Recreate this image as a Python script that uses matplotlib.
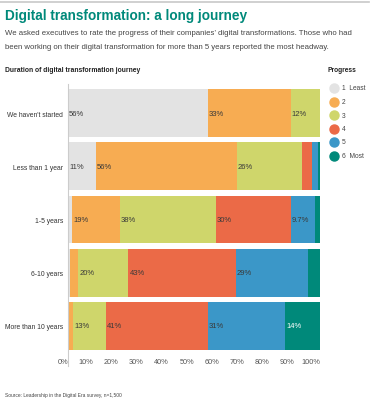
import matplotlib
matplotlib.use("Agg")
import matplotlib.pyplot as plt
from matplotlib.lines import Line2D
import matplotlib.transforms as mtransforms
import numpy as np

plt.rcParams['font.family'] = ['Liberation Sans', 'DejaVu Sans']

categories = ["We haven't started", "Less than 1 year", "1-5 years", "6-10 years", "More than 10 years"]
progress_levels = ["1  Least", "2", "3", "4", "5", "6  Most"]
p1 = [55.6, 11.0, 1.6, 0.6, 0.4]
p2 = [32.8, 56.0, 19.0, 3.4, 1.6]
p3 = [11.6, 26.0, 38.0, 20.0, 13.0]
p4 = [0.0, 4.0, 29.8, 42.6, 40.6]
p5 = [0.0, 2.2, 9.7, 28.8, 30.6]
p6 = [0.0, 0.8, 1.9, 4.6, 13.8]
series = [p1, p2, p3, p4, p5, p6]
colors = ["#e3e3e3", "#f7ac52", "#cfd66b", "#eb6a47", "#3b97c8", "#00897a"]
xticks = [0, 10, 20, 30, 40, 50, 60, 70, 80, 90, 100]

W, H = 371, 406
fig = plt.figure(figsize=(W / 100, H / 100), dpi=100)
renderer = fig.canvas.get_renderer()

def fx(px):
    return px / W

def fy(py):
    return 1 - py / H

def fit(t, target_px):
    w = t.get_window_extent(renderer).width
    t.set_fontsize(t.get_fontsize() * target_px / w)
    return t.get_fontsize()

ax = fig.add_axes([fx(68), fy(353.5), fx(320) - fx(68), fy(87.5) - fy(353.5)])
y = np.arange(len(categories))
left = np.zeros(len(categories))
for vals, col in zip(series, colors):
    vals = np.array(vals)
    ax.barh(y, vals, left=left, height=0.9, color=col, edgecolor='none')
    for yi, (l, v) in enumerate(zip(left, vals)):
        if v >= 9:
            txt = ('{:.2g}'.format(v)) + '%'
            tc = 'white' if col == "#00897a" else '#3a3a3a'
            ax.text(l + 0.4, yi, txt, ha='left', va='center', fontsize=5.5, color=tc)
    left = left + vals

ax.set_xlim(0, 100)
ax.set_ylim(len(categories) - 0.5, -0.5)
ax.set_yticks(y)
ax.set_yticklabels(categories, fontsize=6, color='#333333')
ax.set_xticks(xticks)
xl = ax.set_xticklabels([f"{t}%" for t in xticks], fontsize=5.3, color='#555555', ha='right')
offset = mtransforms.ScaledTranslation(-3 / 100, 0, fig.dpi_scale_trans)
for lab in ax.get_xticklabels():
    lab.set_transform(lab.get_transform() + offset)
ax.tick_params(axis='both', length=0)
ax.tick_params(axis='y', pad=3.6)
ax.tick_params(axis='x', pad=4)
for s in ax.spines.values():
    s.set_visible(False)

# fit y tick label size to reference width of the longest label
tmp = fig.text(0, 0, categories[-1], fontsize=6)
ysize = fit(tmp, 59)
tmp.remove()
ax.tick_params(axis='y', labelsize=ysize)

# left axis rule
fig.add_artist(Line2D([fx(68), fx(68)], [fy(85), fy(367)], transform=fig.transFigure,
                      color='#cccccc', lw=0.8))
# top rule
fig.add_artist(Line2D([0, fx(369)], [fy(2.5), fy(2.5)], transform=fig.transFigure,
                      color='#c8c8c8', lw=1.2))

t = fig.text(fx(5), fy(16), "Digital transformation: a long journey", fontsize=10,
             fontweight='bold', color='#00897a', ha='left', va='center')
fit(t, 243)
s1 = fig.text(fx(5), fy(33.5), "We asked executives to rate the progress of their companies\u2019 digital transformations. Those who had",
              fontsize=6, color='#444444', ha='left', va='center')
ssize = fit(s1, 348)
fig.text(fx(5), fy(47.5), "been working on their digital transformation for more than 5 years reported the most headway.",
         fontsize=ssize, color='#444444', ha='left', va='center')
h = fig.text(fx(5), fy(71), "Duration of digital transformation journey", fontsize=5.5,
             fontweight='bold', color='#222222', ha='left', va='center')
fit(h, 135)
p = fig.text(fx(327), fy(71), "Progress", fontsize=5.5, fontweight='bold', color='#222222',
             ha='left', va='center')
fit(p, 29)

leg_y = [89, 102.5, 116, 130, 143, 157]
for lab, col, ly in zip(progress_levels, colors, leg_y):
    fig.add_artist(Line2D([fx(334)], [fy(ly)], transform=fig.transFigure, marker='o',
                          markersize=6.5, color=col, linestyle='none'))
    fig.text(fx(342), fy(ly), lab, fontsize=4.8, color='#444444', ha='left', va='center')

src = fig.text(fx(5), fy(396), "Source: Leadership in the Digital Era survey, n=1,500", fontsize=3.8,
               color='#444444', ha='left', va='center')
fit(src, 118)

fig.savefig("out.png", dpi=100)
